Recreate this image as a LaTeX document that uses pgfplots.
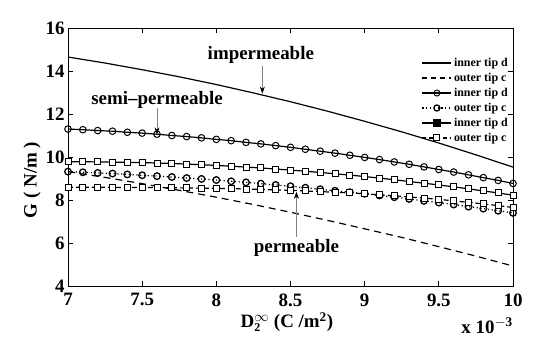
\documentclass[border=0pt]{standalone}
\usepackage{fontspec}
\setmainfont{Liberation Serif}
\usepackage{pgfplots}
\pgfplotsset{compat=1.18}
\usetikzlibrary{arrows.meta}
\newcommand\bigf{\bfseries\fontsize{19}{22}\selectfont}

\pgfplotstableread{
x y
7.00 14.65
7.25 14.37
7.50 14.06
7.75 13.73
8.00 13.37
8.25 12.98
8.50 12.57
8.75 12.13
9.00 11.66
9.25 11.17
9.50 10.65
9.75 10.10
10.00 9.53
}\imperm

\pgfplotstableread{
x y
7.00 9.32
7.25 9.05
7.50 8.76
7.75 8.45
8.00 8.13
8.25 7.79
8.50 7.43
8.75 7.05
9.00 6.66
9.25 6.26
9.50 5.83
9.75 5.39
10.00 4.93
}\outerplain

\pgfplotstableread{
x ic oc is os
7.0 11.30 9.32 9.78 8.59
7.1 11.27 9.29 9.78 8.59
7.2 11.23 9.26 9.77 8.59
7.3 11.20 9.23 9.76 8.59
7.4 11.15 9.19 9.75 8.58
7.5 11.11 9.15 9.74 8.58
7.6 11.06 9.11 9.72 8.58
7.7 11.00 9.07 9.70 8.57
7.8 10.95 9.02 9.67 8.56
7.9 10.89 8.98 9.64 8.55
8.0 10.82 8.93 9.61 8.54
8.1 10.76 8.87 9.57 8.53
8.2 10.68 8.82 9.53 8.51
8.3 10.61 8.76 9.49 8.49
8.4 10.53 8.70 9.44 8.47
8.5 10.45 8.64 9.39 8.45
8.6 10.36 8.57 9.34 8.42
8.7 10.27 8.50 9.28 8.39
8.8 10.18 8.43 9.22 8.36
8.9 10.08 8.36 9.16 8.33
9.0 9.98 8.29 9.09 8.29
9.1 9.88 8.21 9.02 8.24
9.2 9.77 8.13 8.94 8.20
9.3 9.66 8.05 8.86 8.14
9.4 9.54 7.96 8.78 8.09
9.5 9.42 7.88 8.70 8.03
9.6 9.30 7.79 8.61 7.96
9.7 9.17 7.69 8.52 7.89
9.8 9.04 7.60 8.42 7.82
9.9 8.91 7.50 8.33 7.74
10.0 8.77 7.40 8.22 7.65
}\marked

\begin{document}
\begin{tikzpicture}
\useasboundingbox (-68bp,-64bp) rectangle (475bp,286bp);
\begin{axis}[
  at={(0,0)}, anchor=south west,
  width=445bp, height=258bp, scale only axis,
  xmin=7, xmax=10, ymin=4, ymax=16,
  xtick={7,7.5,8,8.5,9,9.5,10},
  xticklabels={7,7.5,8,8.5,9,9.5,10},
  ytick={4,6,8,10,12,14,16},
  yticklabels={4,6,8,10,12,14,16},
  scaled x ticks=false,
  tick align=inside,
  major tick length=5bp,
  axis line style={line width=0.8pt},
  tick style={line width=0.8pt, black},
  tick label style={font=\bigf},
  xticklabel style={yshift=-4bp},
  /pgf/number format/assume math mode=true,
  clip=false,
  legend image code/.code={\draw[mark repeat=2,mark phase=2] plot coordinates {(0bp,0bp)(14.5bp,0bp)(29bp,0bp)};},
  legend style={at={(rel axis cs:1,1)}, anchor=north east, yshift=-22bp, draw=none, fill=none,
    font=\bfseries\fontsize{12}{12.5}\selectfont, row sep=1.2bp, inner xsep=3bp, inner ysep=6bp},
  legend cell align=left,
]
\addplot[black, line width=1.2pt, forget plot] table[x=x,y=y] {\imperm};
\addplot[black, line width=1.2pt, dash pattern=on 7bp off 5bp, forget plot] table[x=x,y=y] {\outerplain};
\addplot[black, line width=1.2pt, mark=o, mark size=3.3bp, mark options={solid, line width=1pt}, forget plot] table[x=x,y=ic] {\marked};
\addplot[black, line width=1.2pt, dash pattern=on 1.2bp off 2.6bp, mark=o, mark size=3.3bp, mark options={solid, line width=1.3pt}, forget plot] table[x=x,y=oc] {\marked};
\addplot[black, line width=1.2pt, mark=square*, mark size=3bp, mark options={solid, fill=white, line width=1pt}, forget plot] table[x=x,y=is] {\marked};
\addplot[black, line width=1.2pt, dash pattern=on 5bp off 3bp, mark=square*, mark size=3bp, mark options={solid, fill=white, line width=1pt}, forget plot] table[x=x,y=os] {\marked};

\addlegendimage{black, line width=1.2pt}
\addlegendimage{black, line width=1.2pt, dash pattern=on 5bp off 4bp}
\addlegendimage{black, line width=1.2pt, mark=o, mark size=3bp, mark options={solid, line width=1pt}}
\addlegendimage{black, line width=1.2pt, dash pattern=on 1.2bp off 2.6bp, mark=o, mark size=3bp, mark options={solid, line width=1.3pt}}
\addlegendimage{black, line width=1.2pt, mark=square*, mark size=3bp, mark options={solid, fill=black}}
\addlegendimage{black, line width=1.2pt, dash pattern=on 4bp off 3bp, mark=square*, mark size=3bp, mark options={solid, fill=white, line width=1pt}}
\legend{inner tip d, outer tip c, inner tip d, outer tip c, inner tip d, outer tip c}

\node[font=\bigf] at (axis cs:8.30,14.74) {impermeable};
\draw[gray, line width=0.6pt, -{Stealth[black,length=7bp,width=5bp]}] (axis cs:8.31,14.23) -- (axis cs:8.31,12.95);
\node[font=\bigf] at (axis cs:7.60,12.65) {semi\textendash permeable};
\draw[gray, line width=0.6pt, -{Stealth[black,length=7bp,width=5bp]}] (axis cs:7.60,12.28) -- (axis cs:7.60,11.05);
\node[font=\bigf] at (axis cs:8.54,5.77) {permeable};
\draw[gray, line width=0.6pt, -{Stealth[black,length=7bp,width=5bp]}] (axis cs:8.54,6.28) -- (axis cs:8.54,8.38);

\node[font=\bigf, rotate=90] at (axis cs:6.757,8.93) {G ( N/m )};
\node[font=\bigf] at (axis cs:8.476,2.33) {D${}^{\infty}_{\hbox{\fontsize{12}{12}\selectfont\bfseries 2}}$ (C /m\textsuperscript{2})};
\node[font=\bigf, anchor=base east, inner sep=0pt] at (axis cs:10,1.81) {x 10\textsuperscript{$-$3}};
\end{axis}
\end{tikzpicture}
\end{document}
